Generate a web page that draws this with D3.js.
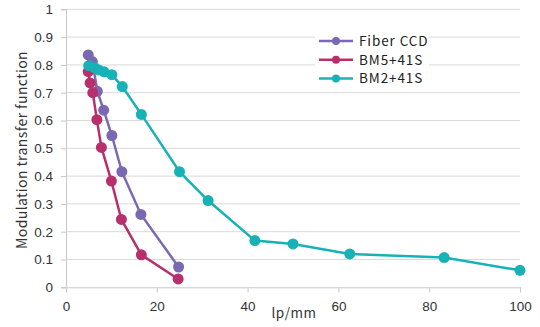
<!DOCTYPE html>
<html><head><meta charset="utf-8">
<script src="https://cdn.jsdelivr.net/npm/d3@7"></script>
<style>body{margin:0;background:#fff}svg{display:block;font-family:"Noto Sans CJK JP","Liberation Sans",sans-serif}</style>
</head><body><svg id="c" width="540" height="327"></svg>
<script>
const seriesNames = ["Fiber CCD", "BM5+41S", "BM2+41S"];
const seriesColors = ["#7b68b2", "#b8306b", "#17b2b6"];
const fiberX = [4.9, 5.8, 6.9, 8.3, 10.1, 12.3, 16.5, 24.8];
const fiberY = [0.836, 0.812, 0.705, 0.637, 0.546, 0.416, 0.262, 0.073];
const bm5X = [4.9, 5.3, 5.9, 6.8, 7.8, 10.0, 12.2, 16.6, 24.7];
const bm5Y = [0.776, 0.735, 0.700, 0.603, 0.503, 0.382, 0.244, 0.117, 0.030];
const bm2X = [5.0, 6.3, 7.2, 8.4, 10.1, 12.4, 16.6, 25.0, 31.3, 41.6, 50.0, 62.5, 83.3, 100];
const bm2Y = [0.797, 0.790, 0.782, 0.775, 0.765, 0.722, 0.622, 0.416, 0.312, 0.168, 0.156, 0.120, 0.107, 0.061];
const xTicks = [0, 20, 40, 60, 80, 100];
const yTicks = [0, 0.1, 0.2, 0.3, 0.4, 0.5, 0.6, 0.7, 0.8, 0.9, 1];

const series = [
  {name: seriesNames[0], color: seriesColors[0], xs: fiberX, ys: fiberY},
  {name: seriesNames[1], color: seriesColors[1], xs: bm5X, ys: bm5Y},
  {name: seriesNames[2], color: seriesColors[2], xs: bm2X, ys: bm2Y}
];

const svg = d3.select("#c");
const x = d3.scaleLinear().domain([0, 100]).range([66, 520]);
const y = d3.scaleLinear().domain([0, 1]).range([287.3, 9.3]);

// gridlines
svg.append("g").selectAll("line").data(yTicks.filter(d => d > 0)).join("line")
  .attr("x1", x(0)).attr("x2", x(100)).attr("y1", d => y(d)).attr("y2", d => y(d))
  .attr("stroke", "#d9d9d9").attr("stroke-width", 1);

// y axis
const yAxis = svg.append("g").attr("transform", `translate(${x(0)},0)`)
  .call(d3.axisLeft(y).tickValues(yTicks).tickFormat(d3.format("")).tickSize(5).tickPadding(8));
yAxis.select(".domain").attr("stroke", "#c8c8c8");
yAxis.selectAll(".tick line").attr("stroke", "#c8c8c8");
yAxis.selectAll("text").attr("font-size", 13.5).attr("fill", "#333");

// x axis
const xAxis = svg.append("g").attr("transform", `translate(0,${y(0)})`)
  .call(d3.axisBottom(x).tickValues(xTicks).tickSize(5).tickPadding(9));
xAxis.select(".domain").attr("stroke", "#c8c8c8");
xAxis.selectAll(".tick line").attr("stroke", "#c8c8c8");
xAxis.selectAll("text").attr("font-size", 13.5).attr("fill", "#333");

// axis titles
svg.append("text").attr("x", 294).attr("y", 318).attr("text-anchor", "middle")
  .attr("font-size", 13.5).attr("letter-spacing", 0.5).attr("fill", "#333").text("lp/mm");
svg.append("text").attr("transform", "translate(27,150) rotate(-90)").attr("text-anchor", "middle")
  .attr("font-size", 14).attr("letter-spacing", 0.4).attr("fill", "#333").text("Modulation transfer function");

// series
const line = d3.line().x(d => x(d[0])).y(d => y(d[1]));
series.forEach(s => {
  const pts = s.xs.map((v, i) => [v, s.ys[i]]);
  const g = svg.append("g");
  g.append("path").datum(pts).attr("d", line).attr("fill", "none")
    .attr("stroke", s.color).attr("stroke-width", 2.5);
  g.selectAll("circle").data(pts).join("circle")
    .attr("cx", d => x(d[0])).attr("cy", d => y(d[1])).attr("r", 5.5).attr("fill", s.color);
});

// legend
const lg = svg.append("g");
lg.append("rect").attr("x", 315).attr("y", 29).attr("width", 114).attr("height", 59).attr("fill", "#fff");
series.forEach((s, i) => {
  const cy = 41 + i * 18.7;
  lg.append("line").attr("x1", 319).attr("x2", 353).attr("y1", cy).attr("y2", cy)
    .attr("stroke", s.color).attr("stroke-width", 2.5);
  lg.append("circle").attr("cx", 336).attr("cy", cy).attr("r", 4).attr("fill", s.color);
  lg.append("text").attr("x", 359).attr("y", cy + 5).attr("font-size", 13.5).attr("letter-spacing", 0.9).attr("fill", "#222").text(s.name);
});
</script></body></html>
